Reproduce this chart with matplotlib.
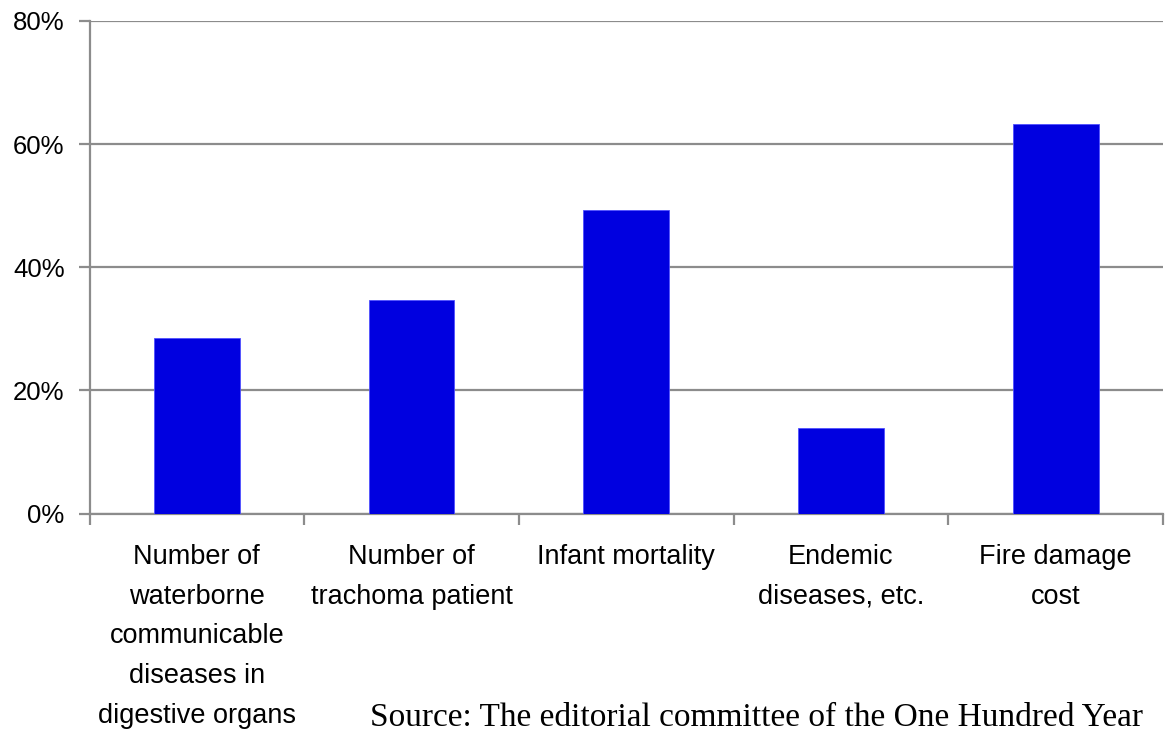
import matplotlib
matplotlib.use("Agg")
import matplotlib.pyplot as plt
from matplotlib.ticker import FuncFormatter, FixedLocator

categories = [
    "Number of\nwaterborne\ncommunicable\ndiseases in\ndigestive organs",
    "Number of\ntrachoma patient",
    "Infant mortality",
    "Endemic\ndiseases, etc.",
    "Fire damage\ncost",
]
values = [28.5, 34.7, 49.3, 13.9, 63.3]
y_ticks = [0, 20, 40, 60, 80]
source_text = "Source: The editorial committee of the One Hundred Year"

fig = plt.figure(figsize=(11.67, 7.32), dpi=100)
ax = fig.add_axes([89.5 / 1167, 1 - 513.5 / 732, (1163 - 89.5) / 1167, (513.5 - 21) / 732])

grid_color = "#8c8c8c"
x = list(range(len(categories)))
ax.bar(x, values, width=0.4, color="#0000e0", edgecolor="#5050ff", linewidth=0.6, zorder=3)

ax.set_xlim(-0.5, len(categories) - 0.5)
ax.set_ylim(0, 80)
ax.yaxis.set_major_locator(FixedLocator(y_ticks))
ax.yaxis.set_major_formatter(FuncFormatter(lambda v, p: f"{v:.0f}%"))
ax.grid(axis="y", color=grid_color, linewidth=1.6, zorder=0)

for side in ("top", "right"):
    ax.spines[side].set_visible(False)
for side in ("left", "bottom"):
    ax.spines[side].set_color(grid_color)
    ax.spines[side].set_linewidth(1.6)

# Category ticks sit at the boundaries between bars
ax.xaxis.set_major_locator(FixedLocator([i - 0.5 for i in range(len(categories) + 1)]))
ax.xaxis.set_major_formatter(FuncFormatter(lambda v, p: ""))
ax.tick_params(axis="x", length=8, width=1.6, color=grid_color, direction="out")
ax.tick_params(axis="y", length=8, width=1.6, color=grid_color, direction="out",
               labelsize=18.5, pad=10)
for lbl in ax.get_yticklabels():
    lbl.set_family("Liberation Sans")

for i, name in enumerate(categories):
    ax.text(i, -5.0, name, ha="center", va="top", fontsize=19.5,
            family="Liberation Sans", linespacing=1.68, transform=ax.transData)

fig.text(370 / 1167, 1 - 726 / 732, source_text, ha="left", va="baseline",
         fontsize=24, family="Liberation Serif")

fig.savefig("out.png", dpi=100)
